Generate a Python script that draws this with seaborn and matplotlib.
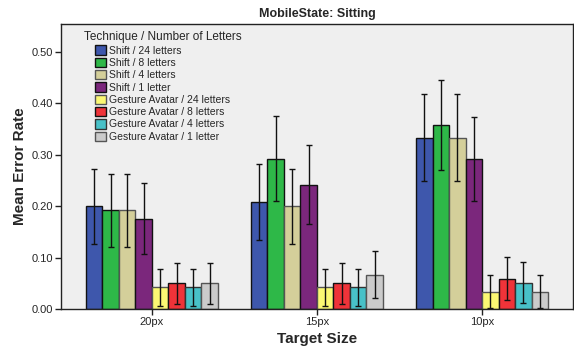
import numpy as np
import pandas as pd
import seaborn as sns
from matplotlib import pyplot as plt

# values
sizes = ["20px", "15px", "10px"]
techniques = ["Shift / 24 letters", "Shift / 8 letters", "Shift / 4 letters", "Shift / 1 letter",
              "Gesture Avatar / 24 letters", "Gesture Avatar / 8 letters",
              "Gesture Avatar / 4 letters", "Gesture Avatar / 1 letter"]
colors = ["#3E57AC", "#2EB848", "#D4CF9A", "#7B277C",
          "#FBF873", "#EF3339", "#48C1C8", "#CBCBCB"]
edges = ["#111111", "#111111", "#555555", "#111111",
         "#555555", "#111111", "#333333", "#555555"]

# mean error rate per technique, in order 20px, 15px, 10px
mean_20 = [0.200, 0.192, 0.192, 0.175, 0.042, 0.050, 0.042, 0.050]
mean_15 = [0.208, 0.292, 0.200, 0.242, 0.042, 0.050, 0.042, 0.067]
mean_10 = [0.333, 0.358, 0.333, 0.292, 0.034, 0.059, 0.050, 0.034]

low_20 = [0.127, 0.120, 0.120, 0.106, 0.006, 0.010, 0.006, 0.010]
low_15 = [0.135, 0.210, 0.127, 0.165, 0.006, 0.010, 0.006, 0.022]
low_10 = [0.248, 0.271, 0.248, 0.210, 0.002, 0.017, 0.012, 0.002]

high_20 = [0.273, 0.263, 0.263, 0.244, 0.078, 0.090, 0.078, 0.090]
high_15 = [0.281, 0.375, 0.273, 0.319, 0.078, 0.090, 0.078, 0.113]
high_10 = [0.418, 0.445, 0.418, 0.373, 0.067, 0.102, 0.091, 0.067]

rows = []
for size, means, lows, highs in zip(sizes, [mean_20, mean_15, mean_10],
                                    [low_20, low_15, low_10], [high_20, high_15, high_10]):
    for tech, m, lo, hi in zip(techniques, means, lows, highs):
        rows.append({"size": size, "technique": tech, "mean": m, "low": lo, "high": hi})
df = pd.DataFrame(rows)

sns.set_style("ticks")
plt.rcParams["font.family"] = ["Liberation Sans", "DejaVu Sans"]

fig = plt.figure(figsize=(5.74, 3.48), dpi=100)
ax = fig.add_axes([0.1063, 0.112, 0.8917, 0.819])
ax.set_facecolor("#EFEFEF")

sns.barplot(data=df, x="size", y="mean", hue="technique", order=sizes, hue_order=techniques,
            palette=colors, errorbar=None, width=0.8, edgecolor="black", linewidth=1.0,
            saturation=1, ax=ax)

for container, tech, ec in zip(ax.containers, techniques, edges):
    for bar in container:
        bar.set_edgecolor(ec)
    sub = df[df["technique"] == tech].set_index("size").loc[sizes]
    xs = [bar.get_x() + bar.get_width() / 2 for bar in container]
    yerr = np.array([sub["mean"] - sub["low"], sub["high"] - sub["mean"]])
    ax.errorbar(xs, sub["mean"], yerr=yerr, fmt="none", ecolor="#111111",
                elinewidth=1, capsize=2, capthick=1)

ax.set_xlim(-0.55, 2.55)
ax.set_ylim(0, 0.554)
ax.set_yticks([0.0, 0.1, 0.2, 0.3, 0.4, 0.5])
ax.set_yticklabels([f"{v:.2f}" for v in [0.0, 0.1, 0.2, 0.3, 0.4, 0.5]])
ax.tick_params(axis="both", labelsize=8, length=4, width=1, color="#222222", pad=2)
for s in ax.spines.values():
    s.set_color("#222222")
    s.set_linewidth(1)

ax.set_xlabel("Target Size", fontsize=11, fontweight="bold", labelpad=3)
ax.set_ylabel("Mean Error Rate", fontsize=11, fontweight="bold", labelpad=3)
ax.set_title("MobileState: Sitting", fontsize=9, fontweight="bold", pad=5)

leg = ax.legend(title="Technique / Number of Letters", loc="upper left", frameon=False,
                fontsize=7.5, title_fontsize=8.5, handlelength=1.0, handleheight=1.0,
                handletextpad=0.3, labelspacing=0.2, borderaxespad=0.3,
                bbox_to_anchor=(0.03, 1.0))
leg._legend_box.align = "center"
for h, ec in zip(leg.legend_handles, edges):
    h.set_edgecolor(ec)

fig.savefig("out.png", dpi=100)
